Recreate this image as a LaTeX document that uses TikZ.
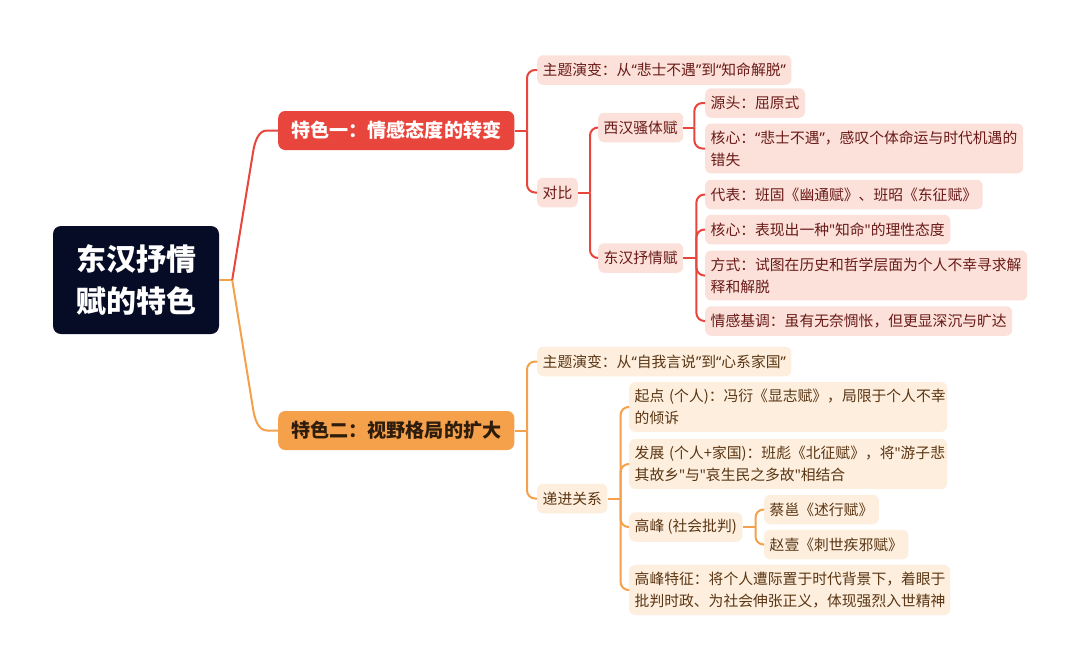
\documentclass[tikz,border=0pt]{standalone}
\usepackage{fontspec}
\setmainfont{Noto Sans CJK SC}
\newfontfamily\qf{Noto Sans}[Ligatures=TeXOff]
\newcommand{\myql}{{\qf “}}
\newcommand{\myqr}{{\qf ”}}
\newcommand{\myqs}{{\qf "}}
\usetikzlibrary{calc}
\definecolor{rline}{HTML}{E8453C}
\definecolor{rlight}{HTML}{FBE1D9}
\definecolor{rtext}{HTML}{6A1A18}
\definecolor{oline}{HTML}{F5A14B}
\definecolor{olight}{HTML}{FDEEDD}
\definecolor{otext}{HTML}{5A3614}
\definecolor{odark}{HTML}{2E1C0C}
\definecolor{navy}{HTML}{070C26}
\tikzset{
  basebox/.style={rounded corners=6pt, inner xsep=5.5pt, inner ysep=7pt, anchor=west,
    minimum height=29.5pt, font=\fontsize{14.8}{22}\selectfont, align=left},
  rbox/.style={basebox, fill=rlight, text=rtext},
  obox/.style={basebox, fill=olight, text=otext},
  topbox/.style={rounded corners=7pt, inner xsep=13pt, inner ysep=0pt, anchor=west,
    minimum height=39pt, font=\bfseries\fontsize{19.1}{24}\selectfont},
  rootbox/.style={rounded corners=8pt, fill=navy, text=white, align=center,
    minimum width=166pt, minimum height=108pt, inner sep=0pt,
    font=\bfseries\fontsize{30}{42}\selectfont},
  rl/.style={draw=rline, line width=2pt},
  ol/.style={draw=oline, line width=2pt},
  elbow/.style={rounded corners=8pt}
}
\begin{document}
\begin{tikzpicture}[x=1pt,y=-1pt]
\fill[white] (0,0) rectangle (1080,670);
\useasboundingbox (0,0) rectangle (1080,670);

% root
\node[rootbox] (root) at (136,280) {东汉抒情\\赋的特色};

% level 1
\node[topbox, fill=rline, text=white] (t1) at (278,130.5) {特色一：情感态度的转变};
\node[topbox, fill=oline, text=odark] (t2) at (278,430.5) {特色二：视野格局的扩大};

% red branch
\node[rbox] (p1) at (537,70) {主题演变：从\myql 悲士不遇\myqr 到\myql 知命解脱\myqr};
\node[rbox] (duibi) at (537,192.5) {对比};
\node[rbox] (xihan) at (598,127.5) {西汉骚体赋};
\node[rbox] (donghan) at (598,258) {东汉抒情赋};
\node[rbox] (yuantou) at (705,103) {源头：屈原式};
\node[rbox, text width=307pt] (hexin1) at (705,148.5) {核心：\myql 悲士不遇\myqr ，感叹个体命运与时代机遇的\\错失};
\node[rbox] (daibiao) at (705,194.5) {代表：班固《幽通赋》、班昭《东征赋》};
\node[rbox] (hexin2) at (705,229.5) {核心：表现出一种\myqs 知命\myqs 的理性态度};
\node[rbox, text width=311pt] (fangshi) at (705,275.5) {方式：试图在历史和哲学层面为个人不幸寻求解\\释和解脱};
\node[rbox] (qinggan) at (705,321) {情感基调：虽有无奈惆怅，但更显深沉与旷达};

% orange branch
\node[obox] (p2) at (537,361.5) {主题演变：从\myql 自我言说\myqr 到\myql 心系家国\myqr};
\node[obox] (dijin) at (537,498.5) {递进关系};
\node[obox, text width=307pt] (qidian) at (629,407) {起点 (个人)：冯衍《显志赋》，局限于个人不幸\\的倾诉};
\node[obox, text width=307pt] (fazhan) at (629,464) {发展 (个人+家国)：班彪《北征赋》，将\myqs 游子悲\\其故乡\myqs 与\myqs 哀生民之多故\myqs 相结合};
\node[obox] (gaofeng) at (629,527) {高峰 (社会批判)};
\node[obox] (caiyong) at (764,509.5) {蔡邕《述行赋》};
\node[obox] (zhaoyi) at (764,544.5) {赵壹《刺世疾邪赋》};
\node[obox, text width=310pt] (tezheng) at (629,590) {高峰特征：将个人遭际置于时代背景下，着眼于\\批判时政、为社会伸张正义，体现强烈入世精神};

% root connectors
\coordinate (rj) at ($(root.east)+(13,0)$);
\draw[ol] (root.east) -- (rj);
\draw[rl] (rj) -- ($(t1.west)+(-25,22)$) .. controls ($(t1.west)+(-23.4,12)$) and ($(t1.west)+(-20,0)$) .. ($(t1.west)+(-11,0)$) -- (t1.west);
\draw[ol] (rj) -- ($(t2.west)+(-25,-22)$) .. controls ($(t2.west)+(-23.4,-12)$) and ($(t2.west)+(-20,0)$) .. ($(t2.west)+(-11,0)$) -- (t2.west);

% red connectors
\coordinate (j1) at ($(p1.west)!0.5!(duibi.west)+(-10,0)$);
\coordinate (j1) at (j1 |- t1.east);
\draw[rl] (t1.east) -- (j1);
\draw[rl, elbow] (j1) |- (p1.west);
\draw[rl, elbow] (j1) |- (duibi.west);

\coordinate (j2) at ($(duibi.east)+(12,0)$);
\draw[rl] (duibi.east) -- (j2);
\draw[rl, elbow] (j2) |- (xihan.west);
\draw[rl, elbow] (j2) |- (donghan.west);

\coordinate (j3) at ($(xihan.east)+(11,0)$);
\draw[rl] (xihan.east) -- (j3);
\draw[rl, elbow] (j3) |- (yuantou.west);
\draw[rl, elbow] (j3) |- (hexin1.west);

\coordinate (j4) at ($(donghan.east)+(13,0)$);
\draw[rl] (donghan.east) -- (j4);
\draw[rl, elbow] (j4) |- (daibiao.west);
\draw[rl, elbow] (j4) |- (hexin2.west);
\draw[rl, elbow] (j4) |- (fangshi.west);
\draw[rl, elbow] (j4) |- (qinggan.west);

% orange connectors
\coordinate (k1) at ($(p2.west)!0.5!(dijin.west)+(-10,0)$);
\coordinate (k1) at (k1 |- t2.east);
\draw[ol] (t2.east) -- (k1);
\draw[ol, elbow] (k1) |- (p2.west);
\draw[ol, elbow] (k1) |- (dijin.west);

\coordinate (k2) at ($(dijin.east)+(13,0)$);
\draw[ol] (dijin.east) -- (k2);
\draw[ol, elbow] (k2) |- (qidian.west);
\draw[ol, elbow] (k2) |- (fazhan.west);
\draw[ol, elbow] (k2) |- (gaofeng.west);
\draw[ol, elbow] (k2) |- (tezheng.west);

\coordinate (k3) at ($(gaofeng.east)+(13,0)$);
\draw[ol] (gaofeng.east) -- (k3);
\draw[ol, elbow] (k3) |- (caiyong.west);
\draw[ol, elbow] (k3) |- (zhaoyi.west);
\end{tikzpicture}
\end{document}
